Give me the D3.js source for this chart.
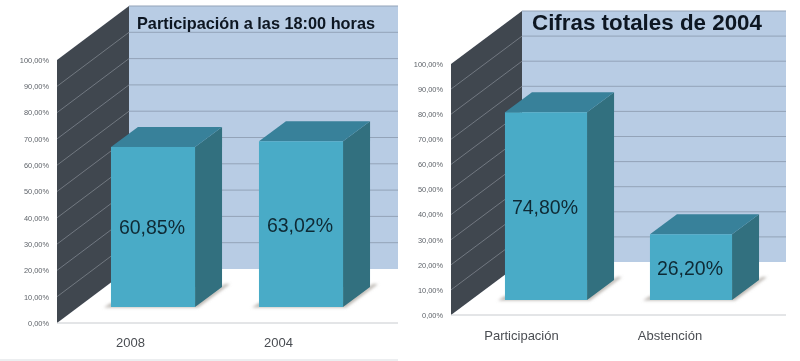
<!DOCTYPE html>
<html><head><meta charset="utf-8">
<script src="https://cdn.jsdelivr.net/npm/d3@7"></script>
<style>html,body{margin:0;padding:0;background:#fff}svg{display:block}text{font-family:"Liberation Sans",Arial,sans-serif}</style>
</head><body><svg id="c" width="800" height="361"></svg>
<script>
const leftCategories = ["2008", "2004"];
const leftValues = [60.85, 63.02];
const leftLabels = ["60,85%", "63,02%"];
const rightCategories = ["Participación", "Abstención"];
const rightValues = [74.80, 26.20];
const rightLabels = ["74,80%", "26,20%"];
const tickValues = [0,10,20,30,40,50,60,70,80,90,100];
const tickFormat = d => d.toFixed(2).replace(".", ",") + "%";

const svg = d3.select("#c");
const defs = svg.append("defs");
defs.append("filter").attr("id","soft").attr("x","-5%").attr("y","-5%").attr("width","110%").attr("height","110%")
  .append("feGaussianBlur").attr("stdDeviation",0.5);
defs.append("filter").attr("id","shadow").attr("x","-20%").attr("y","-50%").attr("width","140%").attr("height","200%")
  .append("feGaussianBlur").attr("stdDeviation",1.5);

const root = svg.append("g").attr("filter","url(#soft)");
root.append("rect").attr("x",0).attr("y",359).attr("width",398).attr("height",2).attr("fill","#eceef0");

function panel(o){
  const g = root.append("g");
  const y = d3.scaleLinear().domain([0,100]).range([o.y0,o.y100]);
  const dy = o.backY0 - o.y0;
  const h = o.y0 - o.y100;
  const backY = v => y(v) + dy;
  const x = d3.scaleBand().domain(o.cats).range(o.band).paddingInner(o.pad).paddingOuter(o.pad/2);
  const xLabels = d3.scalePoint().domain(o.cats).range(o.labelRange);

  // back wall
  g.append("rect").attr("x",o.backX).attr("y",backY(100)).attr("width",o.right-o.backX).attr("height",h).attr("fill","#b8cce4");
  // side wall
  g.append("path").attr("d",d3.line()([[o.frontX,y(0)],[o.frontX,y(100)],[o.backX,backY(100)],[o.backX,backY(0)]])+"Z").attr("fill","#3f4650");
  // gridlines
  g.selectAll(".gb").data(tickValues.slice(1)).join("line")
    .attr("x1",o.backX).attr("x2",o.right).attr("y1",backY).attr("y2",backY)
    .attr("stroke","#93a3b8").attr("stroke-width",1);
  g.selectAll(".gs").data(tickValues.slice(1,-1)).join("line")
    .attr("x1",o.frontX).attr("x2",o.backX).attr("y1",y).attr("y2",backY)
    .attr("stroke","#7f858c").attr("stroke-width",0.8);
  // floor front edge
  g.append("line").attr("x1",o.frontX).attr("x2",o.right).attr("y1",y(0)).attr("y2",y(0)).attr("stroke","#c8cbcf").attr("stroke-width",1);

  // y axis
  const ya = g.append("g").attr("transform",`translate(${o.frontX-6},0)`)
    .call(d3.axisLeft(y).tickValues(tickValues).tickFormat(tickFormat).tickSize(0).tickPadding(2));
  ya.select(".domain").remove();
  ya.selectAll("text").attr("font-size",7.4).attr("fill","#5f646a").style("font-family",'"Liberation Sans",Arial,sans-serif');

  // x axis labels
  const xa = g.append("g").attr("transform",`translate(0,${o.xLabelY})`)
    .call(d3.axisBottom(xLabels).tickSize(0).tickPadding(0));
  xa.select(".domain").remove();
  xa.selectAll("text").attr("font-size",o.xFont).attr("fill","#4a4d52").attr("dy","0.35em").style("font-family",'"Liberation Sans",Arial,sans-serif');

  // bars
  const bx = x.bandwidth();
  const ddx = 27, ddy = -20;
  const bars = g.selectAll(".bar").data(o.vals.map((v,i)=>({v,c:o.cats[i],l:o.labels[i]}))).join("g");
  bars.append("path").attr("d",d=>{
    const l=x(d.c), r=l+bx, b=o.barBase;
    return d3.line()([[l-7,b+0.5],[r+3,b+0.5],[r+ddx+8,b+ddy-3],[r+ddx+3,b+ddy-3],[r,b-4],[l,b-4]])+"Z";
  }).attr("fill","#bdb9b4").attr("filter","url(#shadow)");
  const top = d => o.barBase - (o.y0-y(d.v));
  bars.append("path").attr("d",d=>{
    const r=x(d.c)+bx;
    return d3.line()([[r,top(d)],[r+ddx,top(d)+ddy],[r+ddx,o.barBase+ddy],[r,o.barBase]])+"Z";
  }).attr("fill","#31707f");
  bars.append("path").attr("d",d=>{
    const l=x(d.c), r=l+bx;
    return d3.line()([[l,top(d)],[r,top(d)],[r+ddx,top(d)+ddy],[l+ddx,top(d)+ddy]])+"Z";
  }).attr("fill","#38819a");
  bars.append("rect").attr("x",d=>x(d.c)).attr("y",top).attr("width",bx)
    .attr("height",d=>o.barBase-top(d)).attr("fill","#4aabc7");
  bars.append("text").attr("x",d=>x(d.c)+bx/2-1).attr("y",d=>(top(d)+o.barBase)/2+0.5)
    .attr("text-anchor","middle").attr("dominant-baseline","central")
    .attr("font-size",19.5).attr("fill","#0f2a35").text(d=>d.l);

  // title
  g.append("text").attr("x",o.titleX).attr("y",o.titleY).attr("font-size",o.titleSize)
    .attr("font-weight","bold").attr("fill","#0d1620").attr("dominant-baseline","central")
    .attr("textLength",o.titleLen).attr("lengthAdjust","spacingAndGlyphs").text(o.title);
}

panel({cats:leftCategories, vals:leftValues, labels:leftLabels, title:"Participación a las 18:00 horas",
  frontX:57, backX:129, right:398, y0:323, y100:60, backY0:269, barBase:307,
  band:[79,375], pad:0.432, labelRange:[130,278], xLabelY:342, xFont:13,
  titleX:137, titleY:23, titleSize:16.2, titleLen:238});
panel({cats:rightCategories, vals:rightValues, labels:rightLabels, title:"Cifras totales de 2004",
  frontX:451, backX:522, right:786, y0:315, y100:64, backY0:262, barBase:300,
  band:[473.5,763.5], pad:0.434, labelRange:[521,669.5], xLabelY:335, xFont:13,
  titleX:532, titleY:22, titleSize:22.5, titleLen:230});
</script></body></html>
